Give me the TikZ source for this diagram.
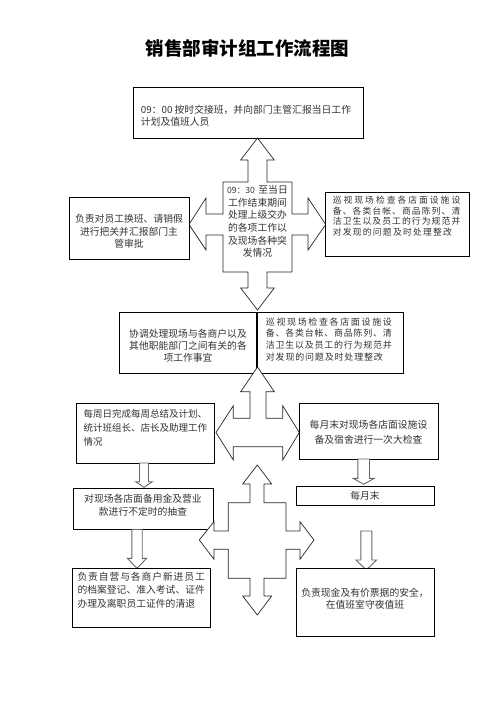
\documentclass[tikz,border=0pt]{standalone}
\usepackage{fontspec}
\newfontfamily\cjk{Noto Sans CJK SC}
\usetikzlibrary{fit}
\newcommand\jl[2]{\makebox[#1][s]{\jlA#2\relax}}
\def\jlA#1{#1\jlB}
\def\jlB#1{\ifx\relax#1\else\hfil#1\expandafter\jlB\fi}
\newcommand\blockdown[6]{%
  \draw[blockst] (#1-#5,#2) -- (#1+#5,#2) -- (#1+#5,#3) -- (#1+#6,#3) -- (#1,#4) -- (#1-#6,#3) -- (#1-#5,#3) -- cycle;}
\tikzset{
  boxst/.style={draw=black, line width=0.9pt, fill=white, inner sep=0pt},
  txt/.style={inner sep=0pt, text=black!80, font=\cjk\fontsize{9.8}{12.5}\selectfont},
  arrowst/.style={draw=black!85, line width=0.7pt, fill=white, line join=miter},
  blockst/.style={draw=black!60, line width=0.9pt, fill=white},
}
\begin{document}
\begin{tikzpicture}[x=1pt,y=-1pt]
\useasboundingbox (0,0) rectangle (496,702);

% title
\node[inner sep=0pt, font=\cjk\bfseries\fontsize{18.5}{20}\selectfont] (title) at (247.5,48) {销售部审计组工作流程图};

% row 1
\node[boxst, fit={(133,87) (363,138)}] (b1) {};
\node[txt, anchor=west, align=left] (b1t) at (140.7,115.5) {09：00 按时交接班，并向部门主管汇报当日工作\\计划及值班人员};

\draw[arrowst] (257.5,138) -- (274.3,160) -- (267,160) -- (267,182) -- (292,182) -- (292,214) -- (308,214) -- (308,198) -- (325.7,224.5) -- (308,250) -- (308,235) -- (292,235) -- (292,272) -- (267,272) -- (267,288) -- (274.3,288) -- (257.5,310) -- (240.7,288) -- (248,288) -- (248,272) -- (223,272) -- (223,235) -- (206,235) -- (206,250) -- (189,224.5) -- (206,198) -- (206,214) -- (223,214) -- (223,182) -- (248,182) -- (248,160) -- (240.7,160) -- cycle;
\node[txt, align=center, font=\cjk\fontsize{9.8}{12.6}\selectfont] (c1t) at (257.5,221.5) {\makebox[60.6pt][s]{{\fontsize{8.6}{10}\selectfont 09：30}\hfil 至当日}\\工作结束期间\\处理上级交办\\的各项工作以\\及现场各种突\\发情况};

\node[boxst, fit={(69,197) (189,259)}] (l1) {};
\node[txt, align=center] (l1t) at (129,231.3) {负责对员工换班、请销假\\进行把关并汇报部门主\\管审批};

\node[boxst, fit={(325,192.5) (469.3,256)}] (r1) {};
\node[txt, anchor=west, align=left, font=\cjk\fontsize{8.8}{10.5}\selectfont] (r1t) at (332.7,216) {\jl{127.4pt}{巡视现场检查各店面设施设}\\\jl{127.4pt}{备、各类台帐、商品陈列、清}\\\jl{127.4pt}{洁卫生以及员工的行为规范并}\\\jl{119pt}{对发现的问题及时处理整改}};

% row 2
\node[boxst, fit={(119,312) (256.5,373)}] (r2l) {};
\node[boxst, fit={(257.5,312) (403,373)}] (r2r) {};
\node[txt, align=center, font=\cjk\fontsize{9.8}{11.7}\selectfont] (r2lt) at (188,345.7) {协调处理现场与各商户以及\\其他职能部门之间有关的各\\项工作事宜};
\node[txt, anchor=west, align=left, font=\cjk\fontsize{9}{11.7}\selectfont] (r2rt) at (265.7,339.2) {\jl{126pt}{巡视现场检查各店面设施设}\\\jl{126pt}{备、各类台帐、商品陈列、清}\\\jl{126pt}{洁卫生以及员工的行为规范并}\\\jl{117pt}{对发现的问题及时处理整改}};

\draw[arrowst] (257.5,367) -- (274.3,391.7) -- (266,391.7) -- (266,418.3) -- (282.7,418.3) -- (282.7,405.7) -- (299.3,432.5) -- (282.7,460) -- (282.7,446.7) -- (233.3,446.7) -- (233.3,460) -- (216,432.5) -- (233.3,405.7) -- (233.3,418.3) -- (250,418.3) -- (250,391.7) -- (240.7,391.7) -- cycle;

% row 3
\node[boxst, fit={(76,403) (214,463)}] (r3l) {};
\node[txt, anchor=west, align=left, font=\cjk\fontsize{9.5}{13.8}\selectfont] (r3lt) at (83.3,428) {每周日完成每周总结及计划、\\统计班组长、店长及助理工作\\情况};
\node[boxst, fit={(299,403) (438,459)}] (r3r) {};
\node[txt, align=center, font=\cjk\fontsize{9.8}{14.3}\selectfont] (r3rt) at (368.5,432.2) {每月末对现场各店面设施设\\备及宿舍进行一次大检查};

\blockdown{144}{463}{481.7}{487.3}{4.5}{8.3}
\blockdown{363.7}{459}{478.3}{484.3}{5.8}{10.6}

\node[boxst, fit={(73,488) (213,529)}] (s1) {};
\node[txt, align=center, font=\cjk\fontsize{9.8}{13.4}\selectfont] (s1t) at (143,505) {对现场各店面备用金及营业\\款进行不定时的抽查};
\node[boxst, fit={(296,486) (434,505)}] (m1) {};
\node[txt] (m1t) at (365,495.5) {每月末};

\draw[arrowst] (257.3,465) -- (271.7,484) -- (264,484) -- (264,502.7) -- (286,502.7) -- (286,531) -- (300,531) -- (300,521.7) -- (314,540) -- (300,559.3) -- (300,549.3) -- (286,549.3) -- (286,578.3) -- (264,578.3) -- (264,596) -- (271.7,596) -- (257.3,615) -- (242.7,596) -- (250,596) -- (250,578.3) -- (228.3,578.3) -- (228.3,549.3) -- (214,549.3) -- (214,559.3) -- (199.3,540) -- (214,521.7) -- (214,531) -- (228.3,531) -- (228.3,502.7) -- (250,502.7) -- (250,484) -- (242.7,484) -- cycle;

\blockdown{137}{529.5}{558.3}{568.3}{5.2}{9.7}
\blockdown{366.3}{531}{560}{570}{5.5}{10.3}

\node[boxst, fit={(72,568) (210,627)}] (z1) {};
\node[txt, anchor=west, align=left, font=\cjk\fontsize{9.8}{13.3}\selectfont] (z1t) at (77.3,590) {\jl{127.4pt}{负责自营与各商户新进员工}\\的档案登记、准入考试、证件\\办理及离职员工证件的清退};
\node[boxst, fit={(296,568) (434,636)}] (x1) {};
\node[txt, align=center, font=\cjk\fontsize{9.8}{12.3}\selectfont] (x1t) at (365,598.9) {负责现金及有价票据的安全，\\在值班室守夜值班};
\end{tikzpicture}
\end{document}
